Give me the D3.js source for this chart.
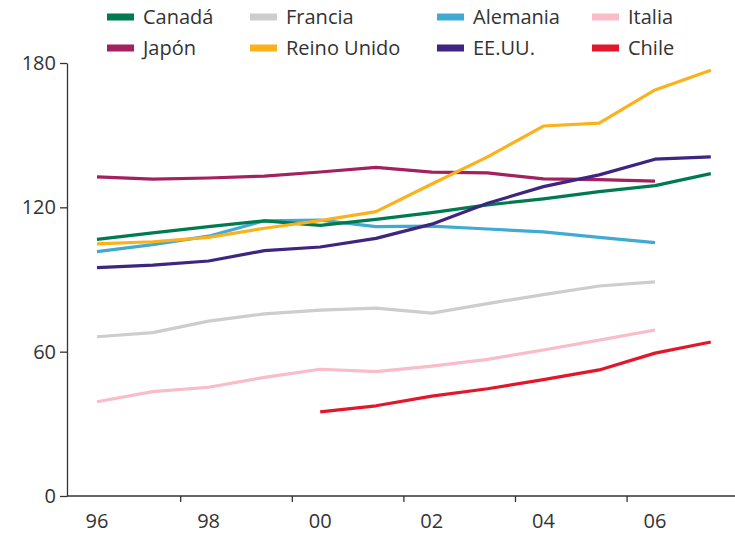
<!DOCTYPE html>
<html><head><meta charset="utf-8">
<script src="https://cdn.jsdelivr.net/npm/d3@7"></script>
<style>
html,body{margin:0;padding:0;background:#fff;}
svg{display:block;font-family:"Open Sans",sans-serif;}
</style></head>
<body><svg id="c" width="735" height="533"></svg>
<script>
const years = [1996,1997,1998,1999,2000,2001,2002,2003,2004,2005,2006,2007];
const seriesNames = ["Canadá","Francia","Alemania","Italia","Japón","Reino Unido","EE.UU.","Chile"];
const seriesColors = ["#007b4f","#cdcdcd","#41aad3","#f9bcc8","#a3215f","#fbb11b","#3d2581","#e3172b"];
const canada   = [106.7,109.4,112,114.4,112.5,115,117.8,121,123.5,126.5,129,134];
const francia  = [66.2,67.9,72.7,75.7,77.3,78.1,76,80,83.7,87.3,89,null];
const alemania = [101.6,104.5,108,114.4,114.7,112,112.2,111,109.8,107.5,105.3,null];
const italia   = [39.2,43.4,45.2,49.3,52.7,51.7,54,56.8,60.7,64.8,69,null];
const japon    = [132.7,131.7,132.2,133,134.7,136.6,134.6,134.3,131.8,131.5,130.9,null];
const reino    = [104.8,105.7,107.5,111.3,114.5,118.2,129.7,141,153.8,155,168.8,177];
const eeuu     = [94.9,96,97.7,102,103.5,107.1,113,121.7,128.6,133.5,140,141];
const chile    = [null,null,null,null,35,37.5,41.5,44.6,48.4,52.4,59.4,64];
const seriesValues = [canada,francia,alemania,italia,japon,reino,eeuu,chile];
const yTicks = [0,60,120,180];
const xLabelYears = [1996,1998,2000,2002,2004,2006];
const xTickYears = [1997.5,1999.5,2001.5,2003.5,2005.5];
const fmtYear = y => String(y).slice(2);

const svg = d3.select("#c");
const x = d3.scaleLinear().domain([1996,2006]).range([97,655]);
const y = d3.scaleLinear().domain([0,180]).range([496,63]);
const axisColor = "#333";
const x0 = x.invert(67);

// y axis
const gy = svg.append("g").attr("transform","translate(67,0)")
  .call(d3.axisLeft(y).tickValues(yTicks).tickSize(7).tickPadding(4).tickSizeOuter(0));
gy.select(".domain").attr("stroke",axisColor).attr("stroke-width",1.3);
gy.selectAll(".tick line").attr("stroke",axisColor).attr("stroke-width",1.3);
gy.selectAll(".tick text").attr("fill","#333").style("font-size","20px").style("font-family","Open Sans");

// x axis line and ticks
const gx = svg.append("g").attr("transform","translate(0,496)");
gx.append("line").attr("x1",x(x0)).attr("x2",735).attr("y1",0).attr("y2",0)
  .attr("stroke",axisColor).attr("stroke-width",1.3);
gx.selectAll("line.tk").data(xTickYears).join("line").attr("class","tk")
  .attr("x1",d=>x(d)).attr("x2",d=>x(d)).attr("y1",0).attr("y2",6)
  .attr("stroke",axisColor).attr("stroke-width",1.3);
gx.selectAll("text").data(xLabelYears).join("text")
  .attr("x",d=>x(d)).attr("y",32).attr("text-anchor","middle")
  .attr("fill","#333").style("font-size","20px").text(fmtYear);

// lines
const line = d3.line().defined(d=>d.v!=null).x(d=>x(d.t)).y(d=>y(d.v));
const drawOrder = [1,3,7,2,0,4,5,6];
drawOrder.forEach(i=>{
  const data = years.map((t,j)=>({t,v:seriesValues[i][j]}));
  svg.append("path").datum(data).attr("d",line)
    .attr("fill","none").attr("stroke",seriesColors[i]).attr("stroke-width",3.2)
    .attr("stroke-linejoin","round");
});

// legend
const colX = [107,250,437,592];
const rowY = [17,48];
const lg = svg.append("g");
seriesNames.forEach((n,i)=>{
  const cx = colX[i%4], cy = rowY[Math.floor(i/4)];
  lg.append("rect").attr("x",cx).attr("y",cy-3.5).attr("width",27).attr("height",7).attr("fill",seriesColors[i]);
  lg.append("text").attr("x",cx+36).attr("y",cy).attr("dy","0.35em")
    .attr("fill","#333").style("font-size","20px").text(n);
});
</script></body></html>
